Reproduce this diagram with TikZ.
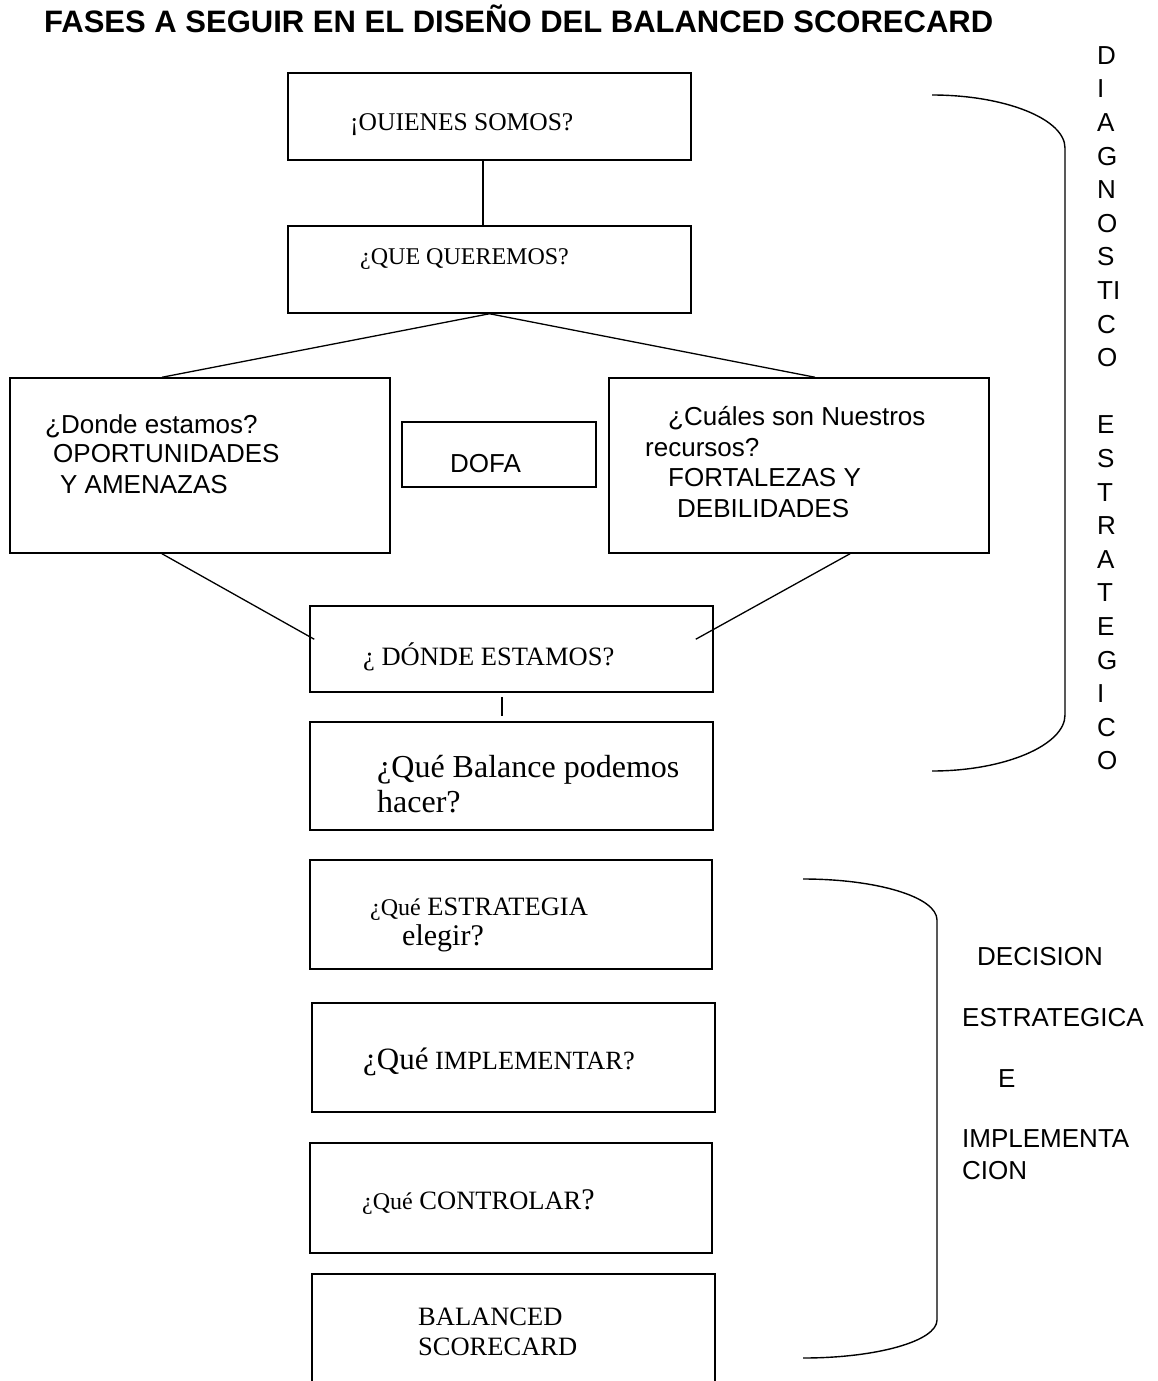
\documentclass[tikz,border=0pt]{standalone}
\usepackage{fontspec}
\setmainfont{Liberation Serif}
\setsansfont{Liberation Sans}
\usetikzlibrary{calc}
\newcommand\fs[1]{\fontsize{#1}{#1}\selectfont}
\tikzset{
  box/.style 2 args={draw, line width=1.5pt, rectangle, inner sep=0pt,
    minimum width=#1, minimum height=#2},
  conn/.style={line width=1.3pt},
  brace/.style={line width=1.4pt},
  lbl/.style={anchor=base west, inner sep=0pt},
  serif/.style={lbl, font=\rmfamily\fs{#1}},
  sans/.style={lbl, font=\sffamily\fs{26}},
}
\begin{document}
\begin{tikzpicture}[x=1pt, y=-1pt]
\useasboundingbox (0,0) rectangle (1158,1381);

% title
\node[lbl, font=\sffamily\bfseries\fs{31}] (title) at (44,33)
  {FASES A SEGUIR EN EL DISEÑO DEL BALANCED SCORECARD};

% boxes
\node[box={403}{87}]  (quienes)     at (489.5,116.5) {};
\node[box={403}{87}]  (queremos)    at (489.5,269.5) {};
\node[box={380}{175}] (oport)       at (200,465.5) {};
\node[box={194}{65}]  (dofa)        at (499,454.5) {};
\node[box={380}{175}] (recursos)    at (799,465.5) {};
\node[box={403}{86}]  (donde)       at (511.5,649) {};
\node[box={403}{108}] (balance)     at (511.5,776) {};
\node[box={402}{109}] (estrategia)  at (511,914.5) {};
\node[box={403}{109}] (implementar) at (513.5,1057.5) {};
\node[box={402}{110}] (controlar)   at (511,1198) {};
\node[box={403}{130}] (balanced)    at (513.5,1339) {};

% connectors
\draw[conn] ([xshift=-6.5pt]quienes.south) -- ([xshift=-6.5pt]queremos.north);
\draw[conn] (queremos.south) -- ([xshift=-38pt]oport.north);
\draw[conn] (queremos.south) -- ([xshift=16pt]recursos.north);
\draw[conn] ([xshift=-38pt]oport.south) -- ($(donde.north west)+(5,34)$);
\draw[conn] ([xshift=51pt]recursos.south) -- ($(donde.north east)+(-18,34)$);
\coordinate (gapT) at ($(donde.south)+(-9.5,4)$);
\coordinate (gapB) at ($(balance.north)+(-9.5,-5)$);
\draw[conn] (gapT) -- (gapB);

% side braces
\draw[brace] (932,95) .. controls (1005,95) and (1065,119) .. (1065,148)
  -- (1065,715) .. controls (1065,745) and (1005,771) .. (932,771);
\draw[brace] (803,879) .. controls (877,879) and (937,897) .. (937,920)
  -- (937,1320) .. controls (937,1341) and (877,1358) .. (803,1358);

% box texts
\node[serif=25.5] (t-quienes)  at (350,130) {¡OUIENES SOMOS?};
\node[serif=24]   (t-queremos) at (360,264) {¿QUE QUEREMOS?};

\node[sans] (t-op1) at (45,433) {¿Donde estamos?};
\node[sans] (t-op2) at (53,462) {OPORTUNIDADES};
\node[sans] (t-op3) at (60,493) {Y AMENAZAS};
\node[sans] (t-dofa) at (450,472) {DOFA};
\node[sans] (t-re1) at (668,425) {¿Cuáles son Nuestros};
\node[sans] (t-re2) at (645,456) {recursos?};
\node[sans] (t-re3) at (668,486) {FORTALEZAS Y};
\node[sans] (t-re4) at (677,517) {DEBILIDADES};

\node[serif=26.5] (t-donde) at (363,665) {¿ DÓNDE ESTAMOS?};
\node[serif=32] (t-bal1) at (377,777) {¿Qué Balance podemos};
\node[serif=32] (t-bal2) at (377,812) {hacer?};
\node[serif=26.5] (t-est1) at (370,915) {{\fs{24}¿Qué} ESTRATEGIA};
\node[serif=30] (t-est2) at (402,945) {elegir?};
\node[serif=26.3] (t-imp) at (363,1069) {{\fs{31}¿Qué} IMPLEMENTAR?};
\node[serif=26.5] (t-con) at (362,1209) {{\fs{24}¿Qué} CONTROLAR{\fs{30}?}};
\node[serif=26.5] (t-bsc1) at (418,1325) {BALANCED};
\node[serif=26.5] (t-bsc2) at (418,1355) {SCORECARD};

% vertical label beside the upper brace
\foreach \l [count=\i from 0] in {D,I,A,G,N,O,S,TI,C,O}
  \node[sans] (diag-\i) at (1097,64.3+\i*33.6) {\l};
\foreach \l [count=\i from 11] in {E,S,T,R,A,T,E,G,I,C,O}
  \node[sans] (estr-\i) at (1097,64.3+\i*33.6) {\l};

% label beside the lower brace
\node[sans] (d1) at (977,965)  {DECISION};
\node[sans] (d2) at (962,1026) {ESTRATEGICA};
\node[sans] (d3) at (998,1087) {E};
\node[sans] (d4) at (962,1147) {IMPLEMENTA};
\node[sans] (d5) at (962,1179) {CION};
\end{tikzpicture}
\end{document}
